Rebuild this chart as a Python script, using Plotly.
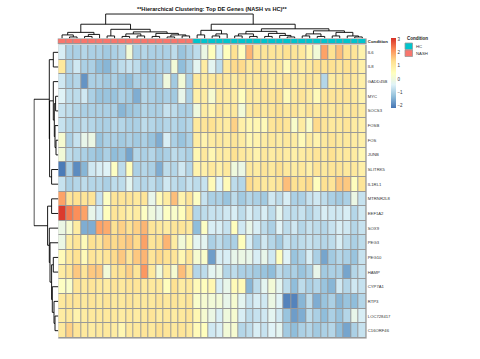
import plotly.graph_objects as go

# ---------------- data ----------------
genes = ["IL6", "IL8", "GADD45B", "MYC", "SOCS3", "FOSB", "FOS", "JUNB", "SLITRK5", "IL1RL1",
         "MTRNR2L8", "EEF1A2", "SOX9", "PEG3", "PEG10", "HAMP", "CYP7A1", "RTP3", "LOC728417", "C16ORF46"]
conditions = ["NASH"] * 18 + ["HC"] * 23
condition_levels = ["HC", "NASH"]
condition_colors = ["#00C5CD", "#F8766D"]

nash_vals = [
    [-0.5, -1.0, -1.0, -0.9, -1.0, -1.0, -1.1, -1.0, -0.9, 0.1, -1.0, -0.9, -1.0, -1.0, -1.0, -0.8, -1.2, -1.0],
    [1.1, -0.9, -0.6, -1.0, -1.0, -1.3, -1.4, -1.0, -0.8, -0.7, -0.8, -1.2, -1.1, -1.0, -1.0, 0.1, -1.3, -1.0],
    [-0.6, -1.0, -0.9, -1.8, -1.0, -1.0, -1.1, -1.0, -1.2, -1.3, -1.0, -1.0, -1.1, -1.0, 0.0, -1.1, 0.1, -1.0],
    [-0.4, -0.8, -0.8, -0.6, -1.0, -1.2, -1.2, -1.2, -1.0, -1.1, -1.5, -0.9, -1.0, -1.1, -1.0, -1.1, -0.2, -1.0],
    [-0.7, -0.8, -0.9, -1.0, -1.0, -1.0, -1.0, -1.0, -1.4, -1.2, -1.1, -0.9, -1.0, -1.0, -0.7, -0.8, -1.0, -1.0],
    [-0.7, -0.9, -0.9, -0.8, -0.9, -1.0, -1.0, -0.9, -0.9, -1.0, -1.0, -0.8, -0.9, -1.0, -0.9, -0.9, -1.0, -0.9],
    [0.2, -1.0, -0.7, -0.2, -0.1, -1.2, -1.0, -1.0, -1.1, -1.0, -1.1, -1.0, -1.2, -1.5, -0.5, -1.0, -1.2, -1.0],
    [0.1, -0.8, -0.9, -1.0, -1.1, -1.2, -1.0, -1.3, -1.2, -1.6, -0.9, -1.0, -0.9, -1.1, -1.0, -0.8, -0.9, -1.0],
    [-2.1, -1.0, -1.9, -1.4, -0.6, -0.5, -0.4, 0.4, -0.8, 0.5, -1.0, -0.9, -1.0, -1.5, -0.8, -0.9, -0.6, -0.9],
    [-0.7, -1.0, -0.9, -0.8, -0.9, -0.9, -1.0, -0.8, -0.8, -0.3, -0.8, -0.9, -0.8, -1.0, -0.6, -0.8, -0.9, -0.7],
    [2.0, 1.2, 1.3, 1.2, 1.2, -0.7, 0.4, 1.2, 1.2, 1.2, 1.1, 1.2, -0.2, 0.6, 1.0, 1.7, 0.8, 1.2],
    [3.0, 2.4, 2.2, 2.0, -0.2, -0.5, 0.5, 1.2, 1.1, 0.9, 1.0, 0.4, 0.0, -0.2, 0.4, 0.3, 0.5, 1.2],
    [-0.1, 0.2, 1.0, -1.5, -1.5, 2.0, 1.9, 1.3, 1.5, 1.3, 1.5, 1.8, 1.2, 1.1, 1.0, 1.2, 1.2, 1.1],
    [-0.1, 1.0, 1.2, 0.6, 1.3, 1.2, 1.5, 1.4, 1.5, 1.6, 1.4, 2.0, 1.2, 1.3, 1.8, 1.0, 0.1, 0.6],
    [0.6, 1.1, 1.3, 0.6, 1.2, 1.1, 1.2, 1.4, 1.6, 1.2, 1.6, 1.8, 1.2, 1.4, 1.3, 1.2, 0.7, 1.2],
    [1.0, 1.2, 1.6, 1.2, 1.6, 1.6, 0.1, 1.2, 1.3, 1.5, 1.2, 2.1, 1.1, 0.1, 1.0, 0.2, 1.7, 1.2],
    [0.4, 0.3, 1.2, 1.1, 1.2, 1.1, 1.0, 1.2, 1.1, 1.2, 1.2, 1.1, 1.1, 1.1, 0.5, 1.3, 1.0, 1.1],
    [1.1, 1.2, 1.2, 1.1, 1.2, 1.1, 1.2, 1.1, 1.1, 1.2, 1.1, 1.1, 1.1, 1.2, 1.1, 1.2, 1.1, 1.2],
    [1.0, 1.1, 0.8, 1.0, 1.1, 1.1, 1.1, 1.1, 1.0, 1.1, 1.0, 1.1, 1.2, 1.0, 1.1, 1.0, 1.1, 1.2],
    [1.1, 1.5, 1.2, 1.1, 1.0, 1.1, 1.1, 1.0, 0.7, 1.1, 1.1, 1.2, 1.1, 1.3, 1.2, 1.1, 1.2, 1.1],
]

hc_vals = [
    [-0.8, -0.1, 0.5, -0.5, 0.5, 1.3, 0.5, 1.8, 1.2, 1.2, 1.2, 1.2, 1.3, 1.2, 1.1, 0.7, 0.1, 2.0, 1.3, 1.7, 1.3, 1.2, 0.8],
    [-0.3, 1.0, -0.3, -0.8, 1.1, 1.4, 1.4, 1.1, 1.2, 1.1, 1.0, 1.1, 0.6, 1.2, 1.0, 1.1, 1.3, 1.3, 1.3, 1.2, 1.3, 1.2, 0.9],
    [1.1, 1.0, 1.1, 1.2, 1.1, 1.0, 1.2, 1.1, 1.1, 1.2, 1.0, 1.1, 1.2, 1.0, 1.1, 1.2, 1.1, -0.9, 1.0, 1.1, 1.2, 1.1, 0.9],
    [0.9, 1.0, 0.2, 1.1, 1.0, 1.0, 0.5, 1.1, 1.0, 1.2, 1.2, 1.3, 0.6, 1.1, 1.2, 1.0, 0.6, 1.2, 1.2, 1.2, 1.2, 1.1, 0.8],
    [0.0, 1.0, 0.8, 1.2, 1.0, 1.1, 0.1, 1.1, 1.2, 1.1, 1.2, 1.3, 1.1, 1.2, 1.0, 1.2, 1.1, 1.2, 1.1, 1.2, 1.1, 1.2, 1.0],
    [1.1, 1.2, 1.3, 1.1, 1.0, 1.5, 0.9, 0.7, 0.7, 0.6, 1.2, 1.3, 1.2, 0.3, 1.0, 0.3, 1.4, 1.2, 1.1, 1.1, 1.2, 1.0, 0.9],
    [1.0, 0.8, 1.0, 1.1, 1.0, 1.2, 1.0, 0.7, 0.8, 1.0, 1.1, 1.0, 1.1, 1.0, 0.6, 1.0, 0.8, 1.1, 1.2, 1.1, 1.1, 1.0, 0.9],
    [0.7, 1.1, 0.7, 1.0, 1.0, 1.3, 1.1, 1.0, 0.8, 1.1, 1.0, 1.1, 1.0, 0.9, 1.0, 1.1, 1.2, 1.1, 1.3, 1.1, 1.1, 1.0, 0.7],
    [0.8, 0.9, 1.1, 0.9, 1.1, 0.0, -0.1, 1.1, 1.0, 1.2, 1.1, 1.3, 1.1, 1.0, 1.1, 0.9, 1.2, 1.1, 1.2, 1.2, 1.1, 1.1, 0.9],
    [-0.8, -0.7, 0.6, -0.4, 0.6, -0.8, -0.9, 1.4, 1.2, 1.1, 1.1, 1.2, 1.7, 1.3, 1.3, 1.4, 0.5, 1.3, 1.2, 1.6, 1.6, 0.5, 1.2],
    [0.4, -0.7, -1.0, -1.0, -1.2, -0.8, -1.1, -0.9, -1.0, -1.1, -0.6, -0.8, -0.5, -1.0, -1.0, -0.7, -0.6, -0.8, -1.0, -1.1, -1.0, -0.1, -0.7],
    [-0.9, -0.8, -0.7, -0.7, -0.6, -0.5, -0.8, -0.5, -0.7, -0.5, -0.8, -0.3, -0.7, -0.8, -0.7, -0.9, -0.7, -0.5, -0.6, -0.6, -0.5, -0.9, -0.6],
    [-1.3, 0.4, -0.5, -0.5, -0.7, 0.5, -0.6, -0.2, -0.5, -0.8, -1.0, -0.4, -0.8, -0.6, -0.9, -0.7, -0.8, -0.9, -0.7, -0.5, -0.6, -0.9, -0.7],
    [-0.3, -0.3, -1.0, -0.8, -1.0, -1.0, 0.5, -0.5, -1.0, -0.6, -0.9, -1.1, -0.7, -0.9, -0.8, -0.7, -0.8, -0.9, -0.8, -0.5, -0.8, -1.0, -0.8],
    [0.2, 0.3, -1.7, -0.5, -0.5, -0.2, -0.1, -0.2, -0.5, -0.2, -0.6, 0.5, -0.4, -1.2, -1.0, -0.5, -1.0, -1.6, -1.1, -0.9, -1.0, -1.2, -0.7],
    [-0.9, -0.8, -0.3, -0.2, -0.9, -0.8, -1.0, -1.0, -1.1, -1.2, -1.3, -0.8, -1.0, -1.0, -1.2, -1.0, -0.2, -1.1, -1.0, -1.0, -1.6, -0.9, -0.7],
    [0.6, 0.5, 0.7, -0.5, -0.2, 0.6, 0.6, -1.4, -0.8, -0.3, 0.1, -0.3, -0.8, -1.3, -0.8, -1.0, -0.9, -1.2, -1.4, -0.6, -0.9, -0.6, -0.7],
    [0.3, 0.2, 0.1, 0.1, -0.2, 0.2, -0.3, -0.7, -0.5, -0.6, -0.1, -0.4, -2.0, -2.0, -1.4, -0.8, -1.5, -1.2, -1.0, -1.4, -1.2, -1.3, -0.9],
    [0.7, 0.2, -0.1, -0.5, 0.0, 0.2, -0.5, -0.8, -0.7, -0.6, -0.3, -0.6, -1.2, -1.7, -1.5, -0.8, -1.0, -1.3, -1.0, -1.2, -0.9, -0.2, -0.5],
    [0.6, 0.5, -0.6, -0.5, 0.1, 0.2, -0.9, -0.8, -0.5, -0.7, -0.4, -0.3, -1.1, -1.3, -1.0, -0.9, -1.1, -1.0, -0.9, -1.3, -1.6, -1.0, -0.7],
]

# dendrogram merge trees: [left, right, merge height]; leaves are column / row indices
col_tree = [
    [[[0, [1, 2, 2], 4], [[3, 4, 2.5], 5, 4.5], 6.5],
     [[6, 7, 3],
      [[[8, 9, 2.5], [10, 11, 3], 5], [[12, 13, 2.5], [[14, 15, 2], [16, 17, 3], 4], 5.5], 7],
      9.5],
     14.5],
    [[[18, 19, 4], [[20, 21, 3], 22, 5], 8.5],
     [[[[23, 24, 3], [25, 26, 2.5], 5], [[27, 28, 2.5], [29, [30, 31, 2], 3.5], 5.5], 7.5],
      [[[32, 33, 3], [34, 35, 2.5], 5], [[36, 37, 3], [38, [39, 40, 2], 3], 6.5], 8],
      10],
     14.5],
    24.5]
row_tree = [
    [[0, 1, 5], [[2, [[3, 4, 2.7], [5, [6, 7, 2.3], 3.3], 4], 5], [8, 9, 6.7], 8.7], 9],
    [[10, 11, 6.7], [12, [13, [[14, 15, 5], [16, [17, [18, 19, 3.3], 4.3], 6], 6.7], 8.3], 9], 10.7],
    24.3]

colorbar_ticks = [-2, -1, 0, 1, 2, 3]
value_min, value_max = -2.17, 3.1

# ---------------- build ----------------
values = [a + b for a, b in zip(nash_vals, hc_vals)]
ncol, nrow = len(conditions), len(genes)

W, H = 480, 359
def px_x(p): return p / W
def px_y(p): return 1 - p / H

X0, X1, Y0, Y1 = 58.3, 366.0, 45.0, 338.0
cw, ch = (X1 - X0) / ncol, (Y1 - Y0) / nrow
pad = 0.8
GRID = "#999999"

def dendro(node, xs, ys):
    if isinstance(node, int):
        return float(node), 0.0
    l, r, h = node
    lc, lh = dendro(l, xs, ys)
    rc, rh = dendro(r, xs, ys)
    xs += [lc, lc, rc, rc, None]
    ys += [lh, h, h, rh, None]
    return (lc + rc) / 2, h

cxs, cys = [], []
dendro(col_tree, cxs, cys)
rxs, rys = [], []
dendro(row_tree, rxs, rys)

rdylbu = ["#4575B4", "#91BFDB", "#E0F3F8", "#FFFFBF", "#FEE090", "#FC8D59", "#D73027"]
cscale = [[i / 6, c] for i, c in enumerate(rdylbu)]

font = "Liberation Sans, Arial, sans-serif"
fig = go.Figure()

fig.add_trace(go.Heatmap(
    z=values, x=list(range(ncol)), y=list(range(nrow)),
    colorscale=cscale, zmin=value_min, zmax=value_max,
    xgap=1, ygap=1, xaxis="x", yaxis="y", hoverinfo="skip",
    colorbar=dict(x=px_x(390.5), xanchor="left", y=px_y(73), yanchor="middle",
                  len=70, lenmode="pixels", thickness=4.5, thicknessmode="pixels",
                  outlinewidth=0, xpad=0, ypad=0, tickvals=colorbar_ticks, ticks="",
                  tickfont=dict(size=4.5, color="#333333", family=font)),
))

cond_idx = [condition_levels.index(c) for c in conditions]
fig.add_trace(go.Heatmap(
    z=[cond_idx], x=list(range(ncol)), y=[0],
    colorscale=[[0, condition_colors[0]], [0.5, condition_colors[0]],
                [0.5, condition_colors[1]], [1, condition_colors[1]]],
    zmin=0, zmax=1, showscale=False, xgap=1, ygap=1,
    xaxis="x", yaxis="y4", hoverinfo="skip",
))

fig.add_trace(go.Scatter(x=cxs, y=cys, mode="lines", line=dict(color="black", width=0.9),
                         xaxis="x", yaxis="y2", hoverinfo="skip", showlegend=False))
fig.add_trace(go.Scatter(x=rys, y=rxs, mode="lines", line=dict(color="black", width=0.9),
                         xaxis="x3", yaxis="y", hoverinfo="skip", showlegend=False))

xr = [-0.5 - pad / cw, ncol - 0.5 + pad / cw]
yr = [nrow - 0.5 + pad / ch, -0.5 - pad / ch]
ann_top, ann_bot = 39.0, 43.5
ann_h = ann_bot - ann_top
ann_r = [-0.5 - pad / ann_h, 0.5 + pad / ann_h]

hidden = dict(showgrid=False, zeroline=False, showline=False, showticklabels=False, ticks="")
fig.update_layout(
    width=W, height=H, margin=dict(l=0, r=0, t=0, b=0),
    paper_bgcolor="white", plot_bgcolor="white", showlegend=False,
    hovermode=False,
    font=dict(family=font, color="#222222"),
    xaxis=dict(domain=[px_x(X0 - pad), px_x(X1 + pad)], range=xr, anchor="y", **hidden),
    yaxis=dict(domain=[px_y(Y1 + pad), px_y(Y0 - pad)], range=yr, anchor="x", side="right",
               showgrid=False, zeroline=False, showline=False, ticks="",
               tickvals=list(range(nrow)), ticktext=genes,
               tickfont=dict(size=4.2, color="#333333", family=font)),
    yaxis2=dict(domain=[px_y(39), px_y(13)], range=[0, 25.5], anchor="x", **hidden),
    xaxis3=dict(domain=[px_x(33.5), px_x(58.3)], range=[24.8, 0], anchor="y", **hidden),
    yaxis4=dict(domain=[px_y(ann_bot + pad), px_y(ann_top - pad)], range=ann_r, anchor="x",
                side="right", showgrid=False, zeroline=False, showline=False, ticks="",
                tickvals=[0], ticktext=["<b>Condition</b>"],
                tickfont=dict(size=4.3, color="#222222", family=font)),
)

shapes = [
    dict(type="rect", xref="x", yref="y", x0=xr[0], x1=xr[1], y0=yr[1], y1=yr[0],
         fillcolor=GRID, line=dict(width=0), layer="below"),
    dict(type="rect", xref="x", yref="y4", x0=xr[0], x1=xr[1], y0=ann_r[0], y1=ann_r[1],
         fillcolor=GRID, line=dict(width=0), layer="below"),
]
# condition legend boxes
for i, (lab, col) in enumerate(zip(condition_levels, condition_colors)):
    top = 43.0 + i * 7.0
    shapes.append(dict(type="rect", xref="paper", yref="paper",
                       x0=px_x(405), x1=px_x(412.5), y0=px_y(top + 6.5), y1=px_y(top),
                       fillcolor=col, line=dict(color=GRID, width=0.8)))
fig.update_layout(shapes=shapes)

annotations = [
    dict(text="<b>**Hierarchical Clustering: Top DE Genes (NASH vs HC)**</b>",
         x=px_x(212), y=px_y(9), xref="paper", yref="paper", showarrow=False,
         xanchor="center", yanchor="middle", font=dict(size=5.6, color="#111111", family=font)),
    dict(text="<b>Condition</b>", x=px_x(405), y=px_y(38.5), xref="paper", yref="paper",
         showarrow=False, xanchor="left", yanchor="middle",
         font=dict(size=4.5, color="#222222", family=font)),
]
for i, lab in enumerate(condition_levels):
    annotations.append(dict(text=lab, x=px_x(414), y=px_y(46.3 + i * 7.0), xref="paper",
                            yref="paper", showarrow=False, xanchor="left", yanchor="middle",
                            font=dict(size=4.3, color="#333333", family=font)))
fig.update_layout(annotations=annotations)

fig.write_html("out.html", config={"staticPlot": True, "displayModeBar": False})
with open("out.html", "r", encoding="utf-8") as f:
    page = f.read()
page = page.replace("<head>", "<head><style>html,body{margin:0;padding:0;overflow:hidden;}</style>", 1)
with open("out.html", "w", encoding="utf-8") as f:
    f.write(page)
